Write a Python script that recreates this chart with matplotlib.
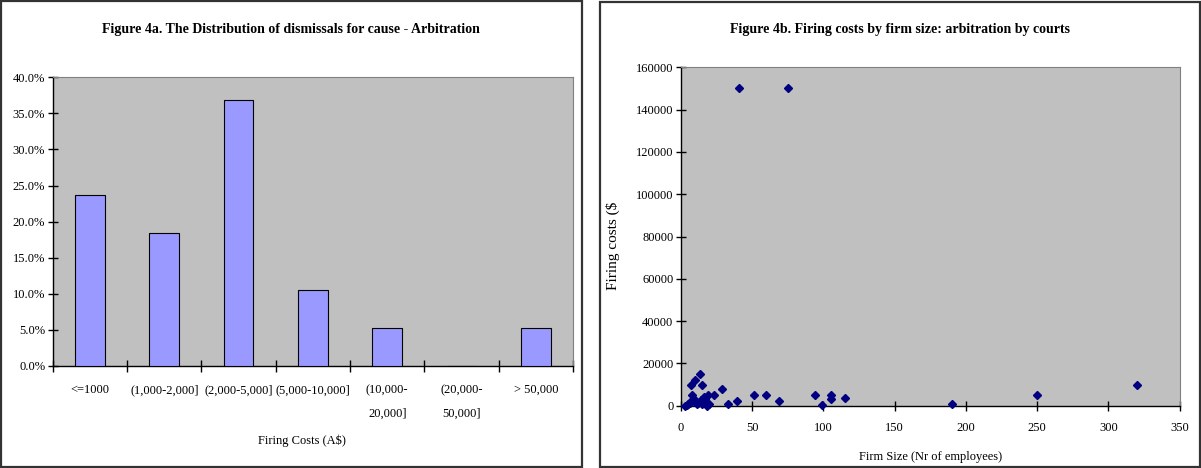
import matplotlib
matplotlib.use("Agg")
import matplotlib.pyplot as plt
from matplotlib.patches import Rectangle
from matplotlib.ticker import FuncFormatter, MultipleLocator, FixedLocator

plt.rcParams['font.family'] = ['Liberation Serif', 'DejaVu Serif']

# ---- data: Figure 4a ----
categories = ["<=1000", "(1,000-2,000]", "(2,000-5,000]", "(5,000-10,000]",
              "(10,000-\n20,000]", "(20,000-\n50,000]", "> 50,000"]
shares = [0.237, 0.184, 0.368, 0.105, 0.053, 0.0, 0.053]

# ---- data: Figure 4b ----
firm_size = [3, 4, 5, 6, 7, 7, 8, 9, 10, 10, 11, 12, 13, 14, 15, 15, 16, 17, 18,
             19, 20, 23, 29, 33, 39, 41, 51, 60, 69, 75, 94, 99, 105, 105, 115,
             190, 250, 320]
firing_cost = [0, 500, 800, 1500, 2000, 10000, 5000, 3000, 12000, 2000, 1000, 1500,
               15000, 2500, 10000, 1000, 4000, 3000, 0, 5000, 1000, 5000, 8000,
               1000, 2000, 150000, 5000, 5000, 2000, 150000, 5000, 500, 3000, 5000,
               3500, 800, 5000, 10000]

W, H = 1201, 468
fig = plt.figure(figsize=(W / 100, H / 100), dpi=100)

def fx(px):
    return px / W

def fy(py):
    return 1 - py / H

# panel borders
fig.patches.append(Rectangle((fx(1), fy(467)), fx(581), 466 / H, transform=fig.transFigure,
                             fill=False, edgecolor='#333333', linewidth=1.6))
fig.patches.append(Rectangle((fx(599.5), fy(467)), fx(600), 465 / H, transform=fig.transFigure,
                             fill=False, edgecolor='#333333', linewidth=1.6))

gray_bg = '#C0C0C0'
tick_fs = 9

# ---------------- left chart ----------------
axL = fig.add_axes([fx(52.8), fy(366), fx(573 - 52.8), (366 - 77.3) / H])
axL.set_facecolor(gray_bg)
xs = list(range(len(categories)))
axL.bar(xs, shares, width=0.4, color='#9999FF', edgecolor='black', linewidth=0.8, zorder=3)
axL.set_xlim(-0.5, len(categories) - 0.5)
axL.set_ylim(0, 0.40)
axL.yaxis.set_major_locator(MultipleLocator(0.05))
axL.yaxis.set_major_formatter(FuncFormatter(lambda v, p: f"{v * 100:.1f}%"))
axL.set_xticks(xs)
axL.set_xticklabels(categories, linespacing=2.3, va='top')
axL.xaxis.set_minor_locator(FixedLocator([i - 0.5 for i in range(len(categories) + 1)]))
axL.tick_params(axis='x', which='major', length=0, pad=13, labelsize=tick_fs)
axL.tick_params(axis='x', which='minor', direction='inout', length=8, width=1)
axL.tick_params(axis='y', direction='inout', length=7, width=1, labelsize=tick_fs, pad=2)
for s in ['top', 'right']:
    axL.spines[s].set_color('#808080')
    axL.spines[s].set_linewidth(0.8)
for s in ['left', 'bottom']:
    axL.spines[s].set_color('black')
    axL.spines[s].set_linewidth(1.0)

fig.text(fx(291), fy(29), "Figure 4a. The Distribution of dismissals for cause - Arbitration",
         ha='center', va='center', fontsize=10, fontweight='bold')
fig.text(fx(302), fy(441), "Firing Costs (A$)", ha='center', va='center', fontsize=tick_fs)

# ---------------- right chart ----------------
axR = fig.add_axes([fx(681), fy(405.7), fx(1179.5 - 681), (405.7 - 67.3) / H])
axR.set_facecolor(gray_bg)
axR.plot(firm_size, firing_cost, linestyle='none', marker='D', markersize=4.2,
         color='#000080', clip_on=False, zorder=3)
axR.set_xlim(0, 350)
axR.set_ylim(0, 160000)
axR.xaxis.set_major_locator(MultipleLocator(50))
axR.yaxis.set_major_locator(MultipleLocator(20000))
axR.tick_params(axis='both', direction='inout', length=7, width=1, labelsize=tick_fs)
axR.tick_params(axis='x', pad=8)
axR.tick_params(axis='y', pad=2)
for s in ['top', 'right']:
    axR.spines[s].set_color('#808080')
    axR.spines[s].set_linewidth(0.8)
for s in ['left', 'bottom']:
    axR.spines[s].set_color('black')
    axR.spines[s].set_linewidth(1.0)

fig.text(fx(900), fy(30), "Figure 4b. Firing costs by firm size: arbitration by courts",
         ha='center', va='center', fontsize=10, fontweight='bold')
fig.text(fx(931), fy(457), "Firm Size (Nr of employees)", ha='center', va='center', fontsize=tick_fs)
fig.text(fx(613), fy(246), "Firing costs ($", ha='center', va='center', rotation=90, fontsize=11)

fig.savefig("out.png", dpi=100)
